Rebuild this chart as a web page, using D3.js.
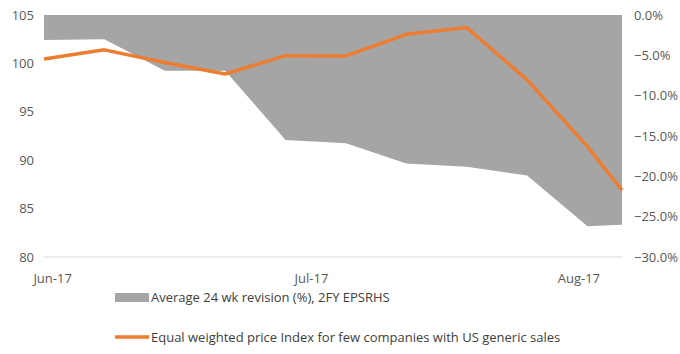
<!DOCTYPE html>
<html lang="en">
<head>
    <meta charset="UTF-8">
    <title>Revision vs price index</title>
    <script src="https://d3js.org/d3.v7.min.js"></script>
    <style>
        body { margin: 0; background: #fff; }
        svg { font-family: "Open Sans", "Liberation Sans", sans-serif; }
        .tick-label { fill: #595959; font-size: 13px; }
        .legend-label { fill: #404040; font-size: 13px; }
    </style>
</head>
<body>
    <svg width="680" height="354"></svg>

    <script>
        // weekly dates
        const dates = ["2017-05-31", "2017-06-07", "2017-06-14", "2017-06-21", "2017-06-28",
            "2017-07-05", "2017-07-12", "2017-07-19", "2017-07-26", "2017-08-02", "2017-08-06"];
        // grey area, right axis (%)
        const revision = [-3.1, -3.0, -6.9, -6.9, -15.5, -15.9, -18.4, -18.8, -19.9, -26.2, -26.0];
        // orange line, left axis
        const priceIndex = [100.45, 101.4, 100.1, 98.9, 100.8, 100.77, 103.0, 103.7, 98.3, 91.4, 86.9];

        const leftTicks = [80, 85, 90, 95, 100, 105];
        const rightTicks = [0, -5, -10, -15, -20, -25, -30];
        const monthTicks = ["2017-06-01", "2017-07-01", "2017-08-01"];

        const parse = d3.timeParse("%Y-%m-%d");
        const data = dates.map((d, i) => ({ date: parse(d), rev: revision[i], px: priceIndex[i] }));

        const svg = d3.select("svg");
        const m = { left: 44, right: 622, top: 15, bottom: 257 };

        const x = d3.scaleTime()
            .domain(d3.extent(data, d => d.date))
            .range([m.left, m.right]);
        const yL = d3.scaleLinear().domain([80, 105]).range([m.bottom, m.top]);
        const yR = d3.scaleLinear().domain([-30, 0]).range([m.bottom, m.top]);

        // bottom gridline
        svg.append("line")
            .attr("x1", m.left).attr("x2", m.right)
            .attr("y1", yL(80)).attr("y2", yL(80))
            .attr("stroke", "#d9d9d9").attr("stroke-width", 1);

        // grey area from 0% down to revision
        const area = d3.area()
            .x(d => x(d.date))
            .y0(yR(0))
            .y1(d => yR(d.rev));
        svg.append("path")
            .datum(data)
            .attr("d", area)
            .attr("fill", "#a5a5a5");

        // orange line
        const line = d3.line()
            .x(d => x(d.date))
            .y(d => yL(d.px));
        svg.append("path")
            .datum(data)
            .attr("d", line)
            .attr("fill", "none")
            .attr("stroke", "#ed7d31")
            .attr("stroke-width", 3.5)
            .attr("stroke-linejoin", "round");

        // left axis labels
        svg.append("g").selectAll("text")
            .data(leftTicks)
            .join("text")
            .attr("class", "tick-label")
            .attr("x", 34)
            .attr("y", d => yL(d))
            .attr("dy", "0.35em")
            .attr("text-anchor", "end")
            .text(d => d);

        // right axis labels
        svg.append("g").selectAll("text")
            .data(rightTicks)
            .join("text")
            .attr("class", "tick-label")
            .attr("x", 634)
            .attr("y", d => yR(d))
            .attr("dy", "0.35em")
            .text(d => d3.format(".1f")(d) + "%");

        // month labels
        svg.append("g").selectAll("text")
            .data(monthTicks.map(parse))
            .join("text")
            .attr("class", "tick-label")
            .attr("x", d => x(d))
            .attr("y", 278)
            .attr("dy", "0.35em")
            .attr("text-anchor", "middle")
            .text(d3.timeFormat("%b-%y"));

        // legend
        const legend = svg.append("g");
        legend.append("rect")
            .attr("x", 115).attr("y", 293)
            .attr("width", 34).attr("height", 9)
            .attr("fill", "#a5a5a5");
        legend.append("text")
            .attr("class", "legend-label")
            .attr("x", 151).attr("y", 297)
            .attr("dy", "0.35em")
            .text("Average 24 wk revision (%), 2FY EPSRHS");
        legend.append("line")
            .attr("x1", 115).attr("x2", 149)
            .attr("y1", 337).attr("y2", 337)
            .attr("stroke", "#ed7d31").attr("stroke-width", 3.5);
        legend.append("text")
            .attr("class", "legend-label")
            .attr("x", 151).attr("y", 337)
            .attr("dy", "0.35em")
            .text("Equal weighted price Index for few companies with US generic sales");
    </script>
</body>
</html>
